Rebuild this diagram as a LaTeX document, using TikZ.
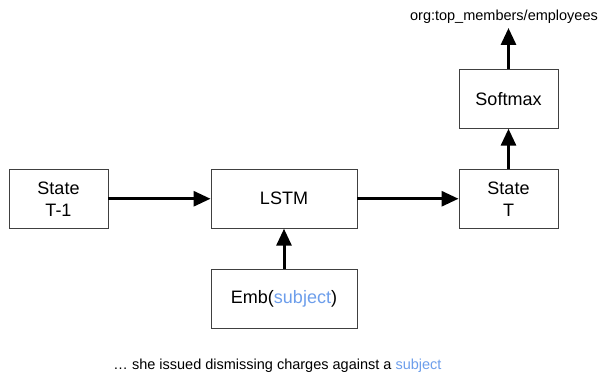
\documentclass[tikz,border=0pt]{standalone}
\usepackage{fontspec}
\setmainfont{Liberation Sans}
\usetikzlibrary{arrows.meta}
\definecolor{subj}{HTML}{6D9EEB}
\definecolor{boxline}{HTML}{404040}
\tikzset{
  box/.style={draw=boxline, line width=0.9pt, minimum height=59pt, align=center,
    font=\fontsize{18}{22}\selectfont, inner sep=0pt},
  narrow/.style={box, minimum width=99pt},
  wide/.style={box, minimum width=146pt},
  flow/.style={line width=3pt, -{Triangle[length=17pt,width=15pt]}},
  small/.style={font=\fontsize{14.5}{17}\selectfont, inner sep=0pt}
}
\begin{document}
\begin{tikzpicture}[x=1pt,y=1pt]
\useasboundingbox (0,0) rectangle (603,-374);
\node[narrow] (s1) at (58.5,-198.75) {State\\T-1};
\node[wide] (lstm) at (284,-198.75) {LSTM};
\node[narrow] (st) at (508.5,-198.75) {State\\T};
\node[narrow] (soft) at (508.5,-98.75) {Softmax};
\node[wide] (emb) at (284,-298.75) {Emb(\textcolor{subj}{subject})};
\node[small] (lab) at (504,-17) {org:top\_members/employees};
\coordinate (top) at (508.5,-28);
\node[small] (sent) at (277.5,-366) {… she issued dismissing charges against a \textcolor{subj}{subject}};
\draw[flow] (s1) -- (lstm);
\draw[flow] (lstm) -- (st);
\draw[flow] (emb) -- (lstm);
\draw[flow] (st) -- (soft);
\draw[flow] (soft) -- (top);
\end{tikzpicture}
\end{document}
